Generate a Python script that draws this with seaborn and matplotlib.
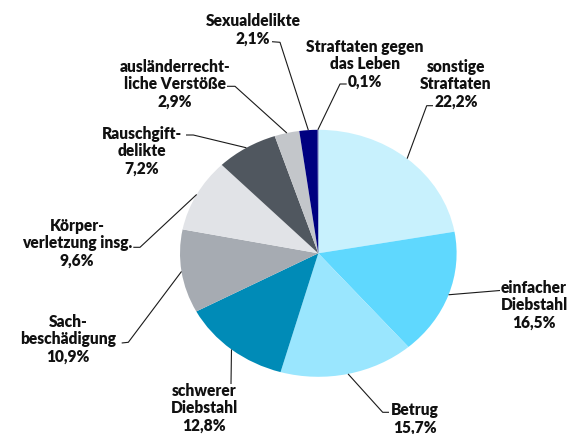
import numpy as np
import matplotlib
matplotlib.use("Agg")
import matplotlib.pyplot as plt
import seaborn as sns

# share of crimes by category (%), clockwise from 12 o'clock
categories = ["sonstige\nStraftaten", "einfacher\nDiebstahl", "Betrug",
              "schwerer\nDiebstahl", "Sach-\nbeschädigung",
              "Körper-\nverletzung insg.", "Rauschgift-\ndelikte",
              "ausländerrecht-\nliche Verstöße", "Sexualdelikte",
              "Straftaten gegen\ndas Leben"]
shares = [22.2, 16.5, 15.7, 12.8, 10.9, 9.6, 7.2, 2.9, 2.1, 0.1]
colors = ["#c8f1fd", "#5fd8fe", "#9ae6fe", "#008bb7", "#a6abb2",
          "#e1e3e7", "#50575f", "#c3c6ca", "#000080", "#1a1a8c"]

# layout in pixels: text centre, then leader path from elbow to text
W, H = 569, 435
CX, CY, RX, RY = 318.3, 254.3, 138.3, 123.5
text_pos = [(456, 84), (534, 305), (415, 419), (204, 408), (68, 339),
            (77, 243), (142, 151), (175, 84), (253, 30), (365, 64)]
leaders = [[(426.7, 106.7), (433, 106.7)],
           [(500, 291.5)],
           [(382.7, 413.3), (389, 413.3)],
           [(231, 385)],
           [(128.3, 343.3), (121.7, 344)],
           [(140, 248.3), (133.3, 248.3)],
           [(193.3, 136), (186, 136)],
           [(235, 87.3), (227, 87.3)],
           [(280, 43.3), (272, 42.7)],
           [(340, 85), (346.7, 85)]]


def px(x, y):
    return (x - CX) / RX, (CY - y) / RY


sns.set_theme(style="white")
plt.rcParams["font.family"] = ["Lato", "DejaVu Sans"]

fig = plt.figure(figsize=(W / 100, H / 100), dpi=100)
ax = fig.add_axes([0, 0, 1, 1])
wedges, _ = ax.pie(shares, colors=colors, startangle=90, counterclock=False,
                   wedgeprops=dict(linewidth=0))
# the reference pie is squashed into an ellipse
ax.set_aspect("auto")
ax.set_xlim(px(0, 0)[0], px(W, 0)[0])
ax.set_ylim(px(0, H)[1], px(0, 0)[1])
ax.set_axis_off()

for w, lab, val, tp, path in zip(wedges, categories, shares, text_pos, leaders):
    mid = np.deg2rad((w.theta1 + w.theta2) / 2)
    xs = [np.cos(mid)] + [px(*p)[0] for p in path]
    ys = [np.sin(mid)] + [px(*p)[1] for p in path]
    ax.plot(xs, ys, color="#1a1a1a", lw=0.8, solid_capstyle="butt")
    pct = f"{val:.1f}".replace(".", ",") + "%"
    ax.text(*px(*tp), f"{lab}\n{pct}", ha="center", va="center",
            fontsize=11.2, fontweight="heavy", color="#111111", linespacing=1.1)

fig.savefig("out.png", dpi=100)
